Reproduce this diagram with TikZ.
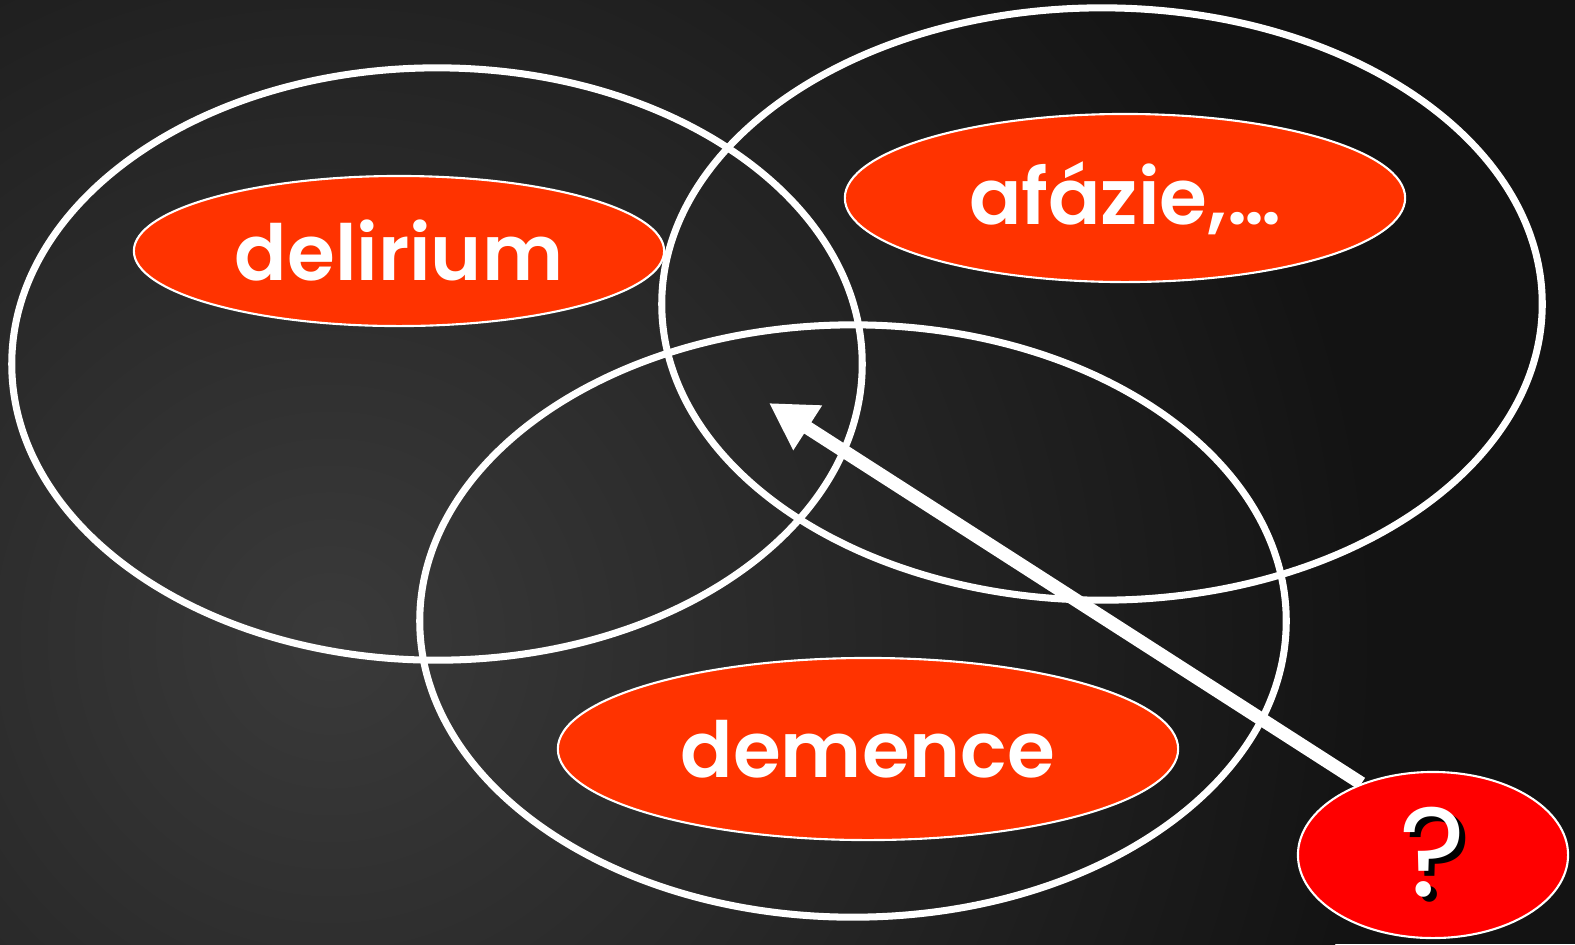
\documentclass[tikz,border=0pt]{standalone}
\usepackage{fontspec}
\setmainfont{Poppins}[BoldFont={Poppins SemiBold}]
\usepackage{xcolor}
\usepackage{tikz}
\usetikzlibrary{arrows.meta,positioning,shapes.geometric,backgrounds}
\definecolor{boarddark}{HTML}{131313}
\definecolor{boardlight}{HTML}{3A3A3A}
\definecolor{flame}{HTML}{FF3300}
\definecolor{alarm}{HTML}{FF0000}
\pgfdeclarelayer{board}
\pgfsetlayers{board,background,main}
\tikzset{
  ring/.style={ellipse, draw=white, line width=2pt, inner sep=0pt},
  tag/.style={ellipse, draw=white, fill=flame, line width=0.6pt, inner sep=0pt, text=white, font=\fontsize{22}{26}\selectfont\bfseries},
  tagalarm/.style={tag, fill=alarm, font=\fontsize{36}{40}\selectfont\mdseries},
  pointer/.style={-{Triangle[length=4.6mm,width=5mm]}, line width=3.8pt, white},
}

\begin{document}
\begin{tikzpicture}[x=0.01cm, y=-0.01cm]
  \useasboundingbox (0,0) rectangle (1575,944);
  % sets
  \node[ring, minimum width=8.50cm, minimum height=5.92cm] (setdel) at (437,364) {};
  \node[ring, minimum width=8.80cm, minimum height=5.92cm] (setafa) at (1102,304) {};
  \node[ring, minimum width=8.66cm, minimum height=5.92cm] (setdem) at (853,621) {};
  % labels
  \node[tag, minimum width=5.30cm, minimum height=1.50cm] (del) at (399,251) {delirium};
  \node[tag, minimum width=5.60cm, minimum height=1.68cm] (afa) at (1125,198) {afázie,\ldots};
  \node[tag, minimum width=6.20cm, minimum height=1.82cm] (dem) at (868,749) {demence};
  % question
  \coordinate (tip) at (769,403);
  \node[tagalarm, minimum width=2.70cm, minimum height=1.66cm] (q) at (1433,855) {\makebox[0pt][l]{\hspace{1.5pt}\raisebox{-1.5pt}{\color{black}?}}?};
  \begin{pgfonlayer}{background}
    \draw[pointer] (q.135) -- (tip);
  \end{pgfonlayer}
  % board
  \begin{pgfonlayer}{board}
    \fill[boarddark] (0,0) rectangle (1575,944);
    \clip (0,0) rectangle (1575,944);
    \shade[inner color=boardlight, outer color=boarddark] (330,640) circle (1050);
  \end{pgfonlayer}
\end{tikzpicture}
\end{document}
